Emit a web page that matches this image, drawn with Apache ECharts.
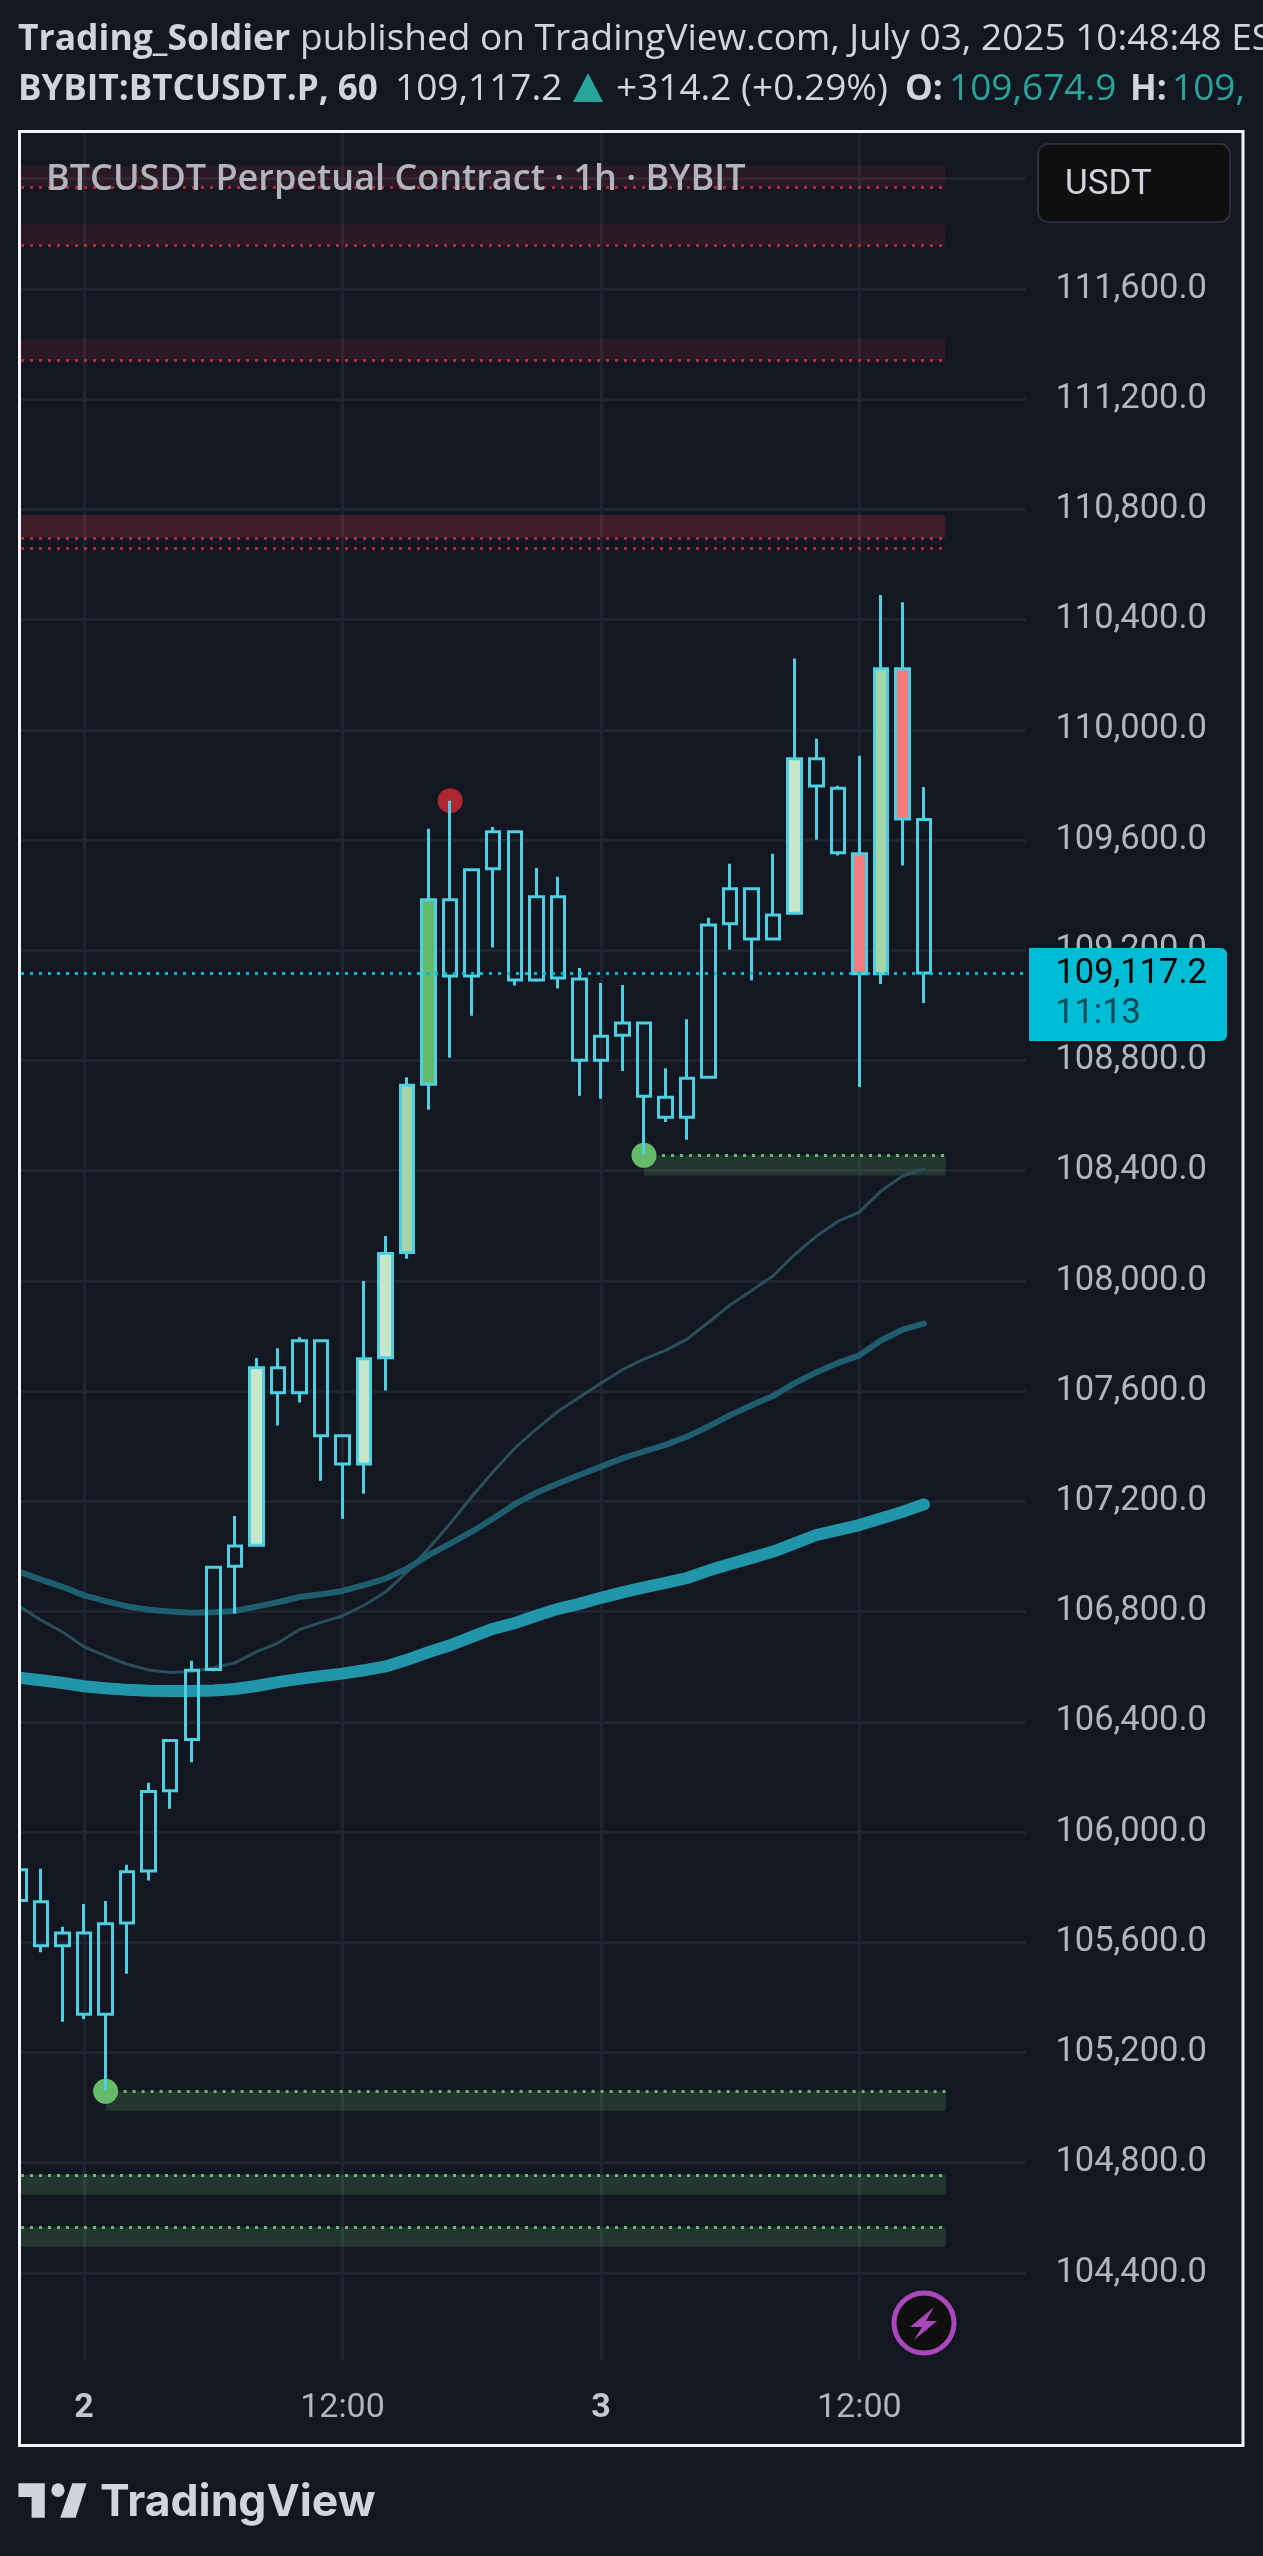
<!DOCTYPE html>
<html>
<head>
<meta charset="utf-8">
<title>BTCUSDT 1h</title>
<script src="https://cdn.jsdelivr.net/npm/echarts@6/dist/echarts.min.js"></script>
<style>
    html, body { margin: 0; padding: 0; background: #131722; }
    #main { width: 1263px; height: 2556px; }
</style>
</head>
<body>
<div id="main"></div>
<script>
/* hours counted from the "2" day mark, first bar is -3 */
var firstHour = -3;
var opens = [105863, 105747, 105587, 105634, 105339, 105670, 105859, 106150, 106336, 106590, 106965, 107041, 107685, 107594, 107783, 107438, 107336, 107721, 108103, 108714, 109383, 109107, 109496, 109630, 109092, 109394, 109096, 108801, 108892, 108936, 108667, 108594, 108739, 109296, 109423, 109241, 109334, 109895, 109788, 109550, 109115, 110222, 109674.9];
var closes = [105752, 105587, 105634, 105339, 105667, 105856, 106147, 106332, 106587, 106961, 107038, 107685, 107594, 107783, 107438, 107336, 107718, 108100, 108710, 109383, 109107, 109492, 109630, 109092, 109394, 109099, 108801, 108888, 108936, 108670, 108594, 108736, 109292, 109423, 109241, 109328, 109895, 109796, 109554, 109115, 110222, 109676, 109117.2];
var highs = [105863, 105867, 105656, 105739, 105750, 105881, 106179, 106332, 106622, 106961, 107147, 107720, 107756, 107796, 107783, 107444, 108000, 108163, 108739, 109641, 109743, 109492, 109647, 109630, 109499, 109467, 109136, 109081, 109074, 108936, 108772, 108950, 109318, 109514, 109423, 109550, 110259, 109968, 109797, 109906, 110489, 110463, 109793];
var lows = [105752, 105564, 105312, 105322, 105061, 105486, 105824, 106085, 106253, 106584, 106793, 107041, 107475, 107559, 107275, 107137, 107228, 107602, 108081, 108621, 108810, 108962, 109210, 109072, 109086, 109061, 108672, 108661, 108762, 108457, 108577, 108512, 108739, 109202, 109090, 109241, 109334, 109601, 109544, 108704, 109078, 109508, 109009];

var emaFast = [106819, 106769, 106726, 106672, 106639, 106609, 106588, 106579, 106583, 106596, 106614, 106654, 106686, 106735, 106761, 106784, 106823, 106871, 106944, 107029, 107120, 107217, 107308, 107393, 107462, 107526, 107578, 107629, 107678, 107716, 107748, 107789, 107850, 107913, 107965, 108019, 108096, 108162, 108216, 108250, 108326, 108381, 108407];
var emaMid = [106944, 106916, 106890, 106859, 106838, 106819, 106807, 106800, 106796, 106798, 106802, 106818, 106834, 106853, 106863, 106875, 106896, 106920, 106956, 107005, 107047, 107090, 107138, 107190, 107231, 107265, 107296, 107326, 107356, 107381, 107405, 107435, 107472, 107513, 107549, 107583, 107629, 107668, 107702, 107730, 107784, 107823, 107845];
var emaSlow = [106560, 106551, 106541, 106529, 106522, 106516, 106513, 106512, 106512, 106514, 106519, 106530, 106544, 106556, 106566, 106575, 106587, 106601, 106625, 106653, 106678, 106708, 106738, 106758, 106785, 106810, 106828, 106850, 106870, 106888, 106904, 106922, 106949, 106973, 106995, 107018, 107048, 107078, 107096, 107114, 107138, 107162, 107189];

/* supply / demand zones: [from hour, top price, bottom price], null start = left edge */
var redZones = [[null, 112046, 111969], [null, 111835, 111758], [null, 111419, 111340], [null, 110780, 110697], [null, 110780, 110697]];
var redDotted = [111969, 111758, 111340, 110697, 110659];
var greenZones = [[26, 108456, 108383], [1, 105059, 104989], [null, 104756, 104684], [null, 104566, 104495]];
var zoneEndHour = 40;

var redDots = [[17, 109743]];
var greenDots = [[26, 108456], [1, 105059]];

var lastPrice = 109117.2;
var priceTicks = [104400, 104800, 105200, 105600, 106000, 106400, 106800, 107200, 107600, 108000, 108400, 108800, 109200, 109600, 110000, 110400, 110800, 111200, 111600, 112000];
var timeTicks = [0, 12, 24, 36];
var timeLabels = ['{day|2}', '12:00', '{day|3}', '12:00'];

/* filled candle bodies, keyed by hour */
var bodyFills = {8: '#c8e6c9', 13: '#c8e6c9', 14: '#c8e6c9', 15: '#a5d6a7', 16: '#66bb6a', 33: '#c8e6c9', 36: '#f77c80', 37: '#a5d6a7', 38: '#f77c80'};

var xMin = -2.93;
var xMax = 43.74;
var candleBlue = '#4dd0e1';
var axisText = '#b2b5be';
var headText = '#d1d4dc';
var pageBg = '#131722';

function hourAt(i) {
    return firstHour + i;
}

function candleData() {
    var rows = [];
    for (var i = 0; i < opens.length; i++) {
        var fill = bodyFills[hourAt(i)] || 'rgba(0,0,0,0)';
        rows.push({
            value: [hourAt(i), opens[i], closes[i], lows[i], highs[i]],
            itemStyle: {color: fill, color0: fill, borderColor: candleBlue, borderColor0: candleBlue}
        });
    }
    return rows;
}

function emaData(values) {
    return values.map(function (v, i) {
        return [hourAt(i), v];
    });
}

function emaSeries(values, width, color) {
    return {
        type: 'line',
        data: emaData(values),
        showSymbol: false,
        silent: true,
        z: 2,
        lineStyle: {width: width, color: color, cap: 'round', join: 'round'}
    };
}

function dottedLine(start, price, color) {
    return [
        {coord: [start === null ? xMin : start, price], lineStyle: {color: color, width: 3, type: [3, 6]}},
        {coord: [zoneEndHour, price]}
    ];
}

function areaFor(zone, color) {
    return [
        {coord: [zone[0] === null ? xMin : zone[0], zone[1]], itemStyle: {color: color}},
        {coord: [zoneEndHour, zone[2]]}
    ];
}

function zonesSeries() {
    var areas = [];
    var lines = [];
    redZones.forEach(function (z) {
        areas.push(areaFor(z, 'rgba(242,54,69,0.1)'));
    });
    greenZones.forEach(function (z) {
        areas.push(areaFor(z, 'rgba(102,187,106,0.2)'));
        lines.push(dottedLine(z[0], z[1], '#66bb6a'));
    });
    redDotted.forEach(function (price) {
        lines.push(dottedLine(null, price, '#b22833'));
    });
    return {
        type: 'line',
        data: [],
        silent: true,
        z: 1,
        markArea: {silent: true, z: 1, data: areas},
        markLine: {silent: true, z: 1, symbol: 'none', label: {show: false}, animation: false, data: lines}
    };
}

/* y is the baseline of the text */
function headLabel(x, y, text, weight, size, fill, family) {
    return {
        type: 'text', z: 100, x: x, y: y - size * 0.36, silent: true,
        style: {text: text, font: weight + ' ' + size + 'px ' + (family || '"Open Sans", sans-serif'), fill: fill, align: 'left', verticalAlign: 'middle'}
    };
}

function chrome(tagY) {
    var sans = '"Open Sans", sans-serif';
    return [
        /* hides the part of the first bar left of the frame */
        {type: 'rect', z: 89, silent: true, shape: {x: 0, y: 131, width: 19, height: 2316}, style: {fill: pageBg}},
        /* frame */
        {type: 'rect', z: 90, silent: true, shape: {x: 19.5, y: 131.5, width: 1223.5, height: 2314}, style: {fill: 'none', stroke: '#f4f5f8', lineWidth: 3}},

        /* header */
        headLabel(18, 53, 'Trading_Soldier', 700, 35.5, headText),
        headLabel(300, 53, 'published on TradingView.com, July 03, 2025 10:48:48 ES', 400, 37, headText),
        headLabel(18, 103, 'BYBIT:BTCUSDT.P, 60', 700, 35, headText),
        headLabel(395, 103, '109,117.2', 400, 37, headText),
        {type: 'polygon', z: 100, silent: true, shape: {points: [[588, 73], [603, 102], [573, 102]]}, style: {fill: '#26a69a'}},
        headLabel(616, 103, '+314.2 (+0.29%)', 400, 37, headText),
        headLabel(905, 103, 'O:', 700, 35, headText),
        headLabel(949, 103, '109,674.9', 400, 37, '#26a69a'),
        headLabel(1130, 103, 'H:', 700, 35, headText),
        headLabel(1172, 103, '109,', 400, 37, '#26a69a'),

        /* watermark title */
        {type: 'text', z: 60, silent: true, x: 46, y: 180, style: {text: 'BTCUSDT Perpetual Contract \u00b7 1h \u00b7 BYBIT', font: '600 36px ' + sans, fill: axisText, align: 'left', verticalAlign: 'middle'}},

        /* currency button */
        {type: 'rect', z: 60, silent: true, shape: {x: 1038, y: 144, width: 192, height: 78, r: 10}, style: {fill: '#0f0f0f', stroke: '#2a2e39', lineWidth: 2}},
        {type: 'text', z: 61, silent: true, x: 1065, y: 185, style: {text: 'USDT', font: '400 35px Roboto', fill: headText, align: 'left', verticalAlign: 'middle'}},

        /* last price tag */
        {type: 'rect', z: 60, silent: true, shape: {x: 1029, y: tagY - 25, width: 198, height: 93, r: [0, 6, 6, 0]}, style: {fill: '#00bcd4'}},
        {type: 'text', z: 61, silent: true, x: 1207, y: tagY + 1, style: {text: '109,117.2', font: '400 34.5px Roboto', fill: '#000000', align: 'right', verticalAlign: 'middle'}},
        {type: 'text', z: 61, silent: true, x: 1055, y: tagY + 41, style: {text: '11:13', font: '400 34.5px Roboto', fill: '#034a59', align: 'left', verticalAlign: 'middle'}},

        /* bolt badge */
        {type: 'circle', z: 60, silent: true, shape: {cx: 924, cy: 2323, r: 30}, style: {fill: '#0f0f0f', stroke: '#ab47bc', lineWidth: 5}},
        {type: 'polygon', z: 61, silent: true, shape: {points: [[934, 2307], [910, 2327], [922, 2327], [914, 2340], [937, 2321], [926, 2321]]}, style: {fill: '#ab47bc'}},

        /* footer logo */
        {
            type: 'group', x: 14, y: 2469.6, scaleX: 2.2, scaleY: 2.29, silent: true,
            children: [
                {type: 'polygon', z: 60, shape: {points: [[14, 6], [2, 6], [2, 12], [8, 12], [8, 21], [14, 21]]}, style: {fill: headText}},
                {type: 'polygon', z: 60, shape: {points: [[28, 21], [21, 21], [26.5, 6], [33, 6]]}, style: {fill: headText}},
                {type: 'circle', z: 60, shape: {cx: 20, cy: 9, r: 3}, style: {fill: headText}}
            ]
        },
        headLabel(100, 2519, 'TradingView', 700, 44.5, headText, 'Inter')
    ];
}

function getChart() {
    var myChart = echarts.init(document.getElementById('main'), null, {renderer: 'canvas'});
    var option = {
        animation: false,
        backgroundColor: pageBg,
        grid: {left: 21, top: 133, width: 1005, height: 2227.7, containLabel: false},
        xAxis: {
            type: 'value',
            min: xMin,
            max: xMax,
            axisLine: {show: false},
            axisTick: {show: false, customValues: timeTicks},
            splitLine: {show: true, lineStyle: {color: '#1f2430', width: 3}},
            axisLabel: {
                customValues: timeTicks,
                margin: 31,
                color: axisText,
                fontFamily: 'Roboto',
                fontSize: 34,
                formatter: function (v) {
                    return timeLabels[timeTicks.indexOf(v)];
                },
                rich: {day: {fontFamily: 'Roboto', fontSize: 34, fontWeight: 'bold', color: '#c3c6ce'}}
            }
        },
        yAxis: {
            type: 'value',
            position: 'right',
            min: 104081.5,
            max: 112166,
            axisLine: {show: false},
            axisTick: {show: false, customValues: priceTicks},
            splitLine: {show: true, lineStyle: {color: '#1f2430', width: 3}},
            axisLabel: {
                customValues: priceTicks,
                margin: 181,
                align: 'right',
                color: axisText,
                fontFamily: 'Roboto',
                fontSize: 34.5,
                formatter: function (v) {
                    return v.toLocaleString('en-US', {minimumFractionDigits: 1, maximumFractionDigits: 1});
                }
            }
        },
        series: [
            zonesSeries(),
            emaSeries(emaFast, 3, '#2b4f5a'),
            emaSeries(emaMid, 6, '#1f5e6e'),
            emaSeries(emaSlow, 12, '#2196ab'),
            {
                type: 'scatter',
                data: redDots,
                symbolSize: 25,
                silent: true,
                z: 3,
                itemStyle: {color: '#ad2730', opacity: 1}
            },
            {
                type: 'scatter',
                data: greenDots,
                symbolSize: 25,
                silent: true,
                z: 3,
                itemStyle: {color: '#66bb6a', opacity: 1}
            },
            {
                type: 'candlestick',
                data: candleData(),
                barWidth: 14,
                silent: true,
                z: 4,
                itemStyle: {borderWidth: 3},
                markLine: {
                    silent: true,
                    symbol: 'none',
                    label: {show: false},
                    animation: false,
                    lineStyle: {color: '#00bcd4', width: 3, type: [3, 6]},
                    data: [[{coord: [xMin, lastPrice]}, {coord: [xMax, lastPrice]}]]
                }
            }
        ]
    };
    myChart.setOption(option);
    var tagY = myChart.convertToPixel({yAxisIndex: 0}, lastPrice);
    myChart.setOption({graphic: chrome(tagY)});
}

getChart();
</script>
</body>
</html>
